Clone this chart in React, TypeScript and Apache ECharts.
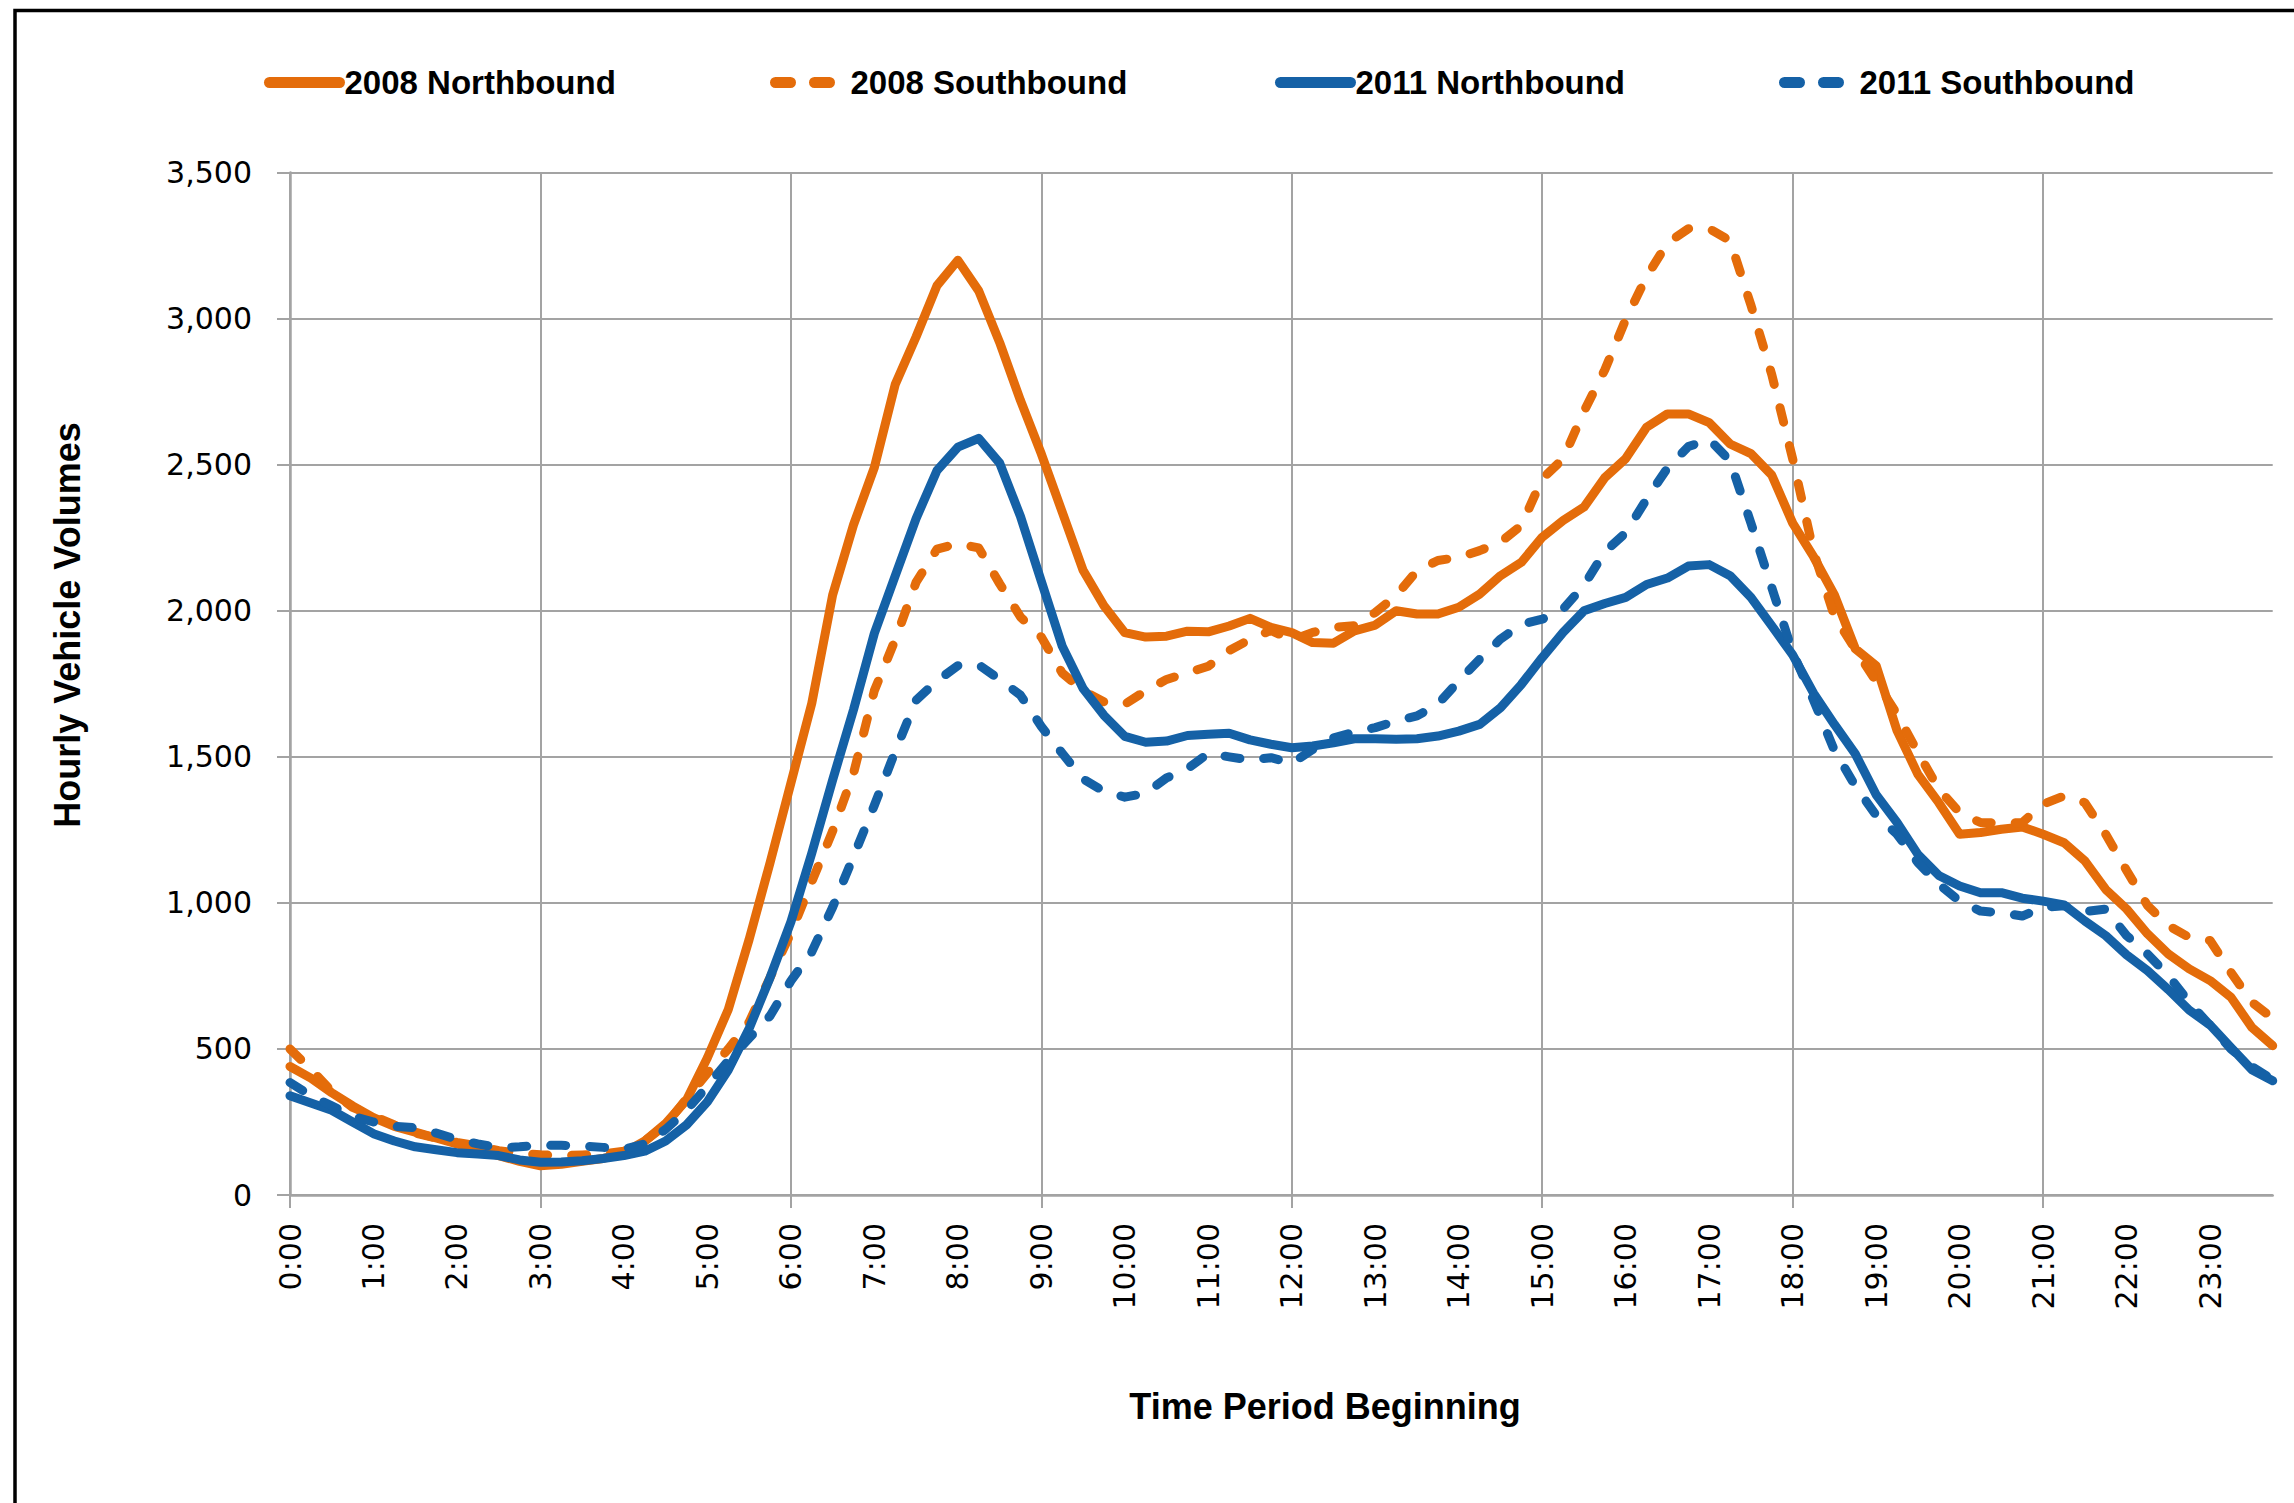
import React, { useEffect, useRef } from "react";
import * as echarts from "echarts";

const times: string[] = [];
for (let h = 0; h < 24; h++) {
  for (let m = 0; m < 60; m += 15) times.push(`${h}:${m === 0 ? "00" : m}`);
}

const seriesNames = ["2008 Northbound", "2008 Southbound", "2011 Northbound", "2011 Southbound"];

const nb2008 = [
  440, 400, 350, 305, 265, 235, 215, 195, 175, 155, 135, 115, 100, 105, 115, 125,
  145, 185, 245, 325, 470, 635, 875, 1137, 1410, 1683, 2054, 2294, 2491, 2775, 2938, 3113,
  3200, 3095, 2919, 2720, 2537, 2338, 2139, 2017, 1925, 1910, 1913, 1930, 1928, 1948, 1974, 1943,
  1925, 1891, 1889, 1931, 1951, 2000, 1989, 1989, 2012, 2057, 2120, 2166, 2252, 2309, 2355, 2456,
  2521, 2628, 2674, 2674, 2644, 2571, 2538, 2464, 2300, 2185, 2054, 1870, 1812, 1590, 1440, 1343,
  1235, 1241, 1252, 1260, 1235, 1206, 1144, 1046, 979, 894, 825, 774, 734, 677, 574, 511,
];

const sb2008 = [
  500, 430, 355, 300, 270, 240, 212, 195, 180, 168, 152, 143, 138, 135, 137, 140,
  150, 185, 240, 330, 417, 500, 592, 744, 897, 1072, 1246, 1443, 1727, 1901, 2098, 2211,
  2230, 2215, 2093, 1979, 1910, 1787, 1726, 1688, 1680, 1726, 1765, 1788, 1810, 1864, 1902, 1933,
  1900, 1926, 1943, 1949, 1994, 2052, 2137, 2172, 2183, 2206, 2235, 2292, 2452, 2520, 2683, 2825,
  2997, 3144, 3259, 3308, 3308, 3267, 3046, 2808, 2520, 2202, 1981, 1868, 1758, 1646, 1515, 1389,
  1309, 1275, 1273, 1275, 1338, 1366, 1343, 1235, 1111, 991, 922, 882, 871, 762, 660, 605,
];

const nb2011 = [
  340, 315, 290, 250, 210, 185, 165, 155, 145, 140, 135, 120, 112, 113, 117, 125,
  135, 150, 185, 240, 319, 428, 570, 744, 935, 1170, 1421, 1661, 1923, 2120, 2316, 2480,
  2560, 2590, 2506, 2323, 2101, 1879, 1734, 1642, 1570, 1550, 1554, 1573, 1577, 1581, 1558, 1543,
  1531, 1537, 1548, 1562, 1562, 1560, 1562, 1571, 1588, 1611, 1668, 1748, 1840, 1926, 2000, 2025,
  2046, 2090, 2112, 2153, 2158, 2120, 2046, 1948, 1849, 1718, 1611, 1510, 1370, 1275, 1166, 1094,
  1058, 1035, 1035, 1016, 1006, 993, 938, 888, 822, 768, 703, 633, 582, 505, 429, 391,
];

const sb2011 = [
  385, 340, 305, 270, 250, 235, 230, 212, 190, 175, 162, 165, 170, 170, 168, 163,
  157, 175, 225, 290, 373, 460, 537, 613, 733, 832, 985, 1159, 1334, 1519, 1694, 1760,
  1812, 1815, 1765, 1711, 1604, 1512, 1424, 1382, 1362, 1375, 1428, 1459, 1512, 1500, 1489, 1497,
  1478, 1525, 1565, 1585, 1600, 1623, 1640, 1680, 1760, 1834, 1903, 1954, 1971, 2006, 2087, 2202,
  2267, 2382, 2489, 2562, 2587, 2513, 2300, 2079, 1858, 1694, 1522, 1400, 1300, 1235, 1138, 1064,
  1006, 972, 966, 955, 985, 990, 970, 979, 888, 825, 751, 660, 580, 500, 440, 395,
];

const ORANGE = "#E46C0A";
const BLUE = "#1561A6";
const GRID = "#a3a3a3";
const LABEL_FONT = "DejaVu Sans";
const BOLD_FONT = "Liberation Sans";

export default function App() {
  const ref = useRef<HTMLDivElement>(null);

  useEffect(() => {
    document.body.style.margin = "0";
    if (!ref.current) return;
    const chart = echarts.init(ref.current, undefined, { renderer: "svg" });

    const dataSets = [nb2008, sb2008, nb2011, sb2011];
    const colors = [ORANGE, ORANGE, BLUE, BLUE];
    const dashed = [false, true, false, true];
    const legendLefts = [264, 770, 1275, 1779];

    const series = seriesNames.map((name, i) => ({
      name,
      type: "line",
      data: dataSets[i],
      symbol: "none",
      showSymbol: false,
      color: colors[i],
      lineStyle: {
        color: colors[i],
        width: 9,
        type: dashed[i] ? [15, 24] : "solid",
        cap: "round",
        join: "round",
      },
      z: 2 + i,
    }));

    const legends = seriesNames.map((name, i) => ({
      data: [name],
      left: legendLefts[i],
      top: 66,
      padding: 0,
      itemWidth: 70,
      itemHeight: 12,
      itemGap: 0,
      itemStyle: { opacity: 0 },
      lineStyle: { width: 11, cap: "round" },
      textStyle: {
        color: "#000",
        fontFamily: BOLD_FONT,
        fontWeight: "bold",
        fontSize: 33,
      },
    }));

    chart.setOption({
      animation: false,
      backgroundColor: "#ffffff",
      legend: legends,
      grid: { left: 290, top: 172.6, right: 21.3, bottom: 308, containLabel: false },
      xAxis: {
        type: "category",
        data: times,
        boundaryGap: false,
        axisLine: { show: true, lineStyle: { color: GRID, width: 2.5 } },
        axisTick: { show: true, interval: 11, length: 13, lineStyle: { color: GRID, width: 2 } },
        axisLabel: {
          interval: 3,
          rotate: 90,
          margin: 28,
          color: "#000",
          fontFamily: LABEL_FONT,
          fontSize: 30,
        },
        splitLine: { show: true, interval: 11, lineStyle: { color: GRID, width: 2 } },
      },
      yAxis: {
        type: "value",
        min: 0,
        max: 3500,
        interval: 500,
        axisLine: { show: true, lineStyle: { color: GRID, width: 2.5 } },
        axisTick: { show: true, length: 13, lineStyle: { color: GRID, width: 2 } },
        axisLabel: {
          margin: 38,
          color: "#000",
          fontFamily: LABEL_FONT,
          fontSize: 30,
          formatter: (v: number) => v.toLocaleString("en-US"),
        },
        splitLine: { show: true, lineStyle: { color: GRID, width: 2 } },
      },
      graphic: [
        {
          type: "rect",
          shape: { x: 15, y: 10.5, width: 2400, height: 1700 },
          style: { fill: "none", stroke: "#000", lineWidth: 3.5 },
          silent: true,
        },
        {
          type: "text",
          x: 67,
          y: 625,
          rotation: Math.PI / 2,
          style: {
            text: "Hourly Vehicle Volumes",
            fontFamily: BOLD_FONT,
            fontWeight: "bold",
            fontSize: 36,
            fill: "#000",
            textAlign: "center",
            textVerticalAlign: "middle",
          },
        },
        {
          type: "text",
          x: 1325,
          y: 1406,
          style: {
            text: "Time Period Beginning",
            fontFamily: BOLD_FONT,
            fontWeight: "bold",
            fontSize: 36,
            fill: "#000",
            textAlign: "center",
            textVerticalAlign: "middle",
          },
        },
      ],
      series,
    });

    return () => chart.dispose();
  }, []);

  return <div ref={ref} style={{ width: 2294, height: 1503 }} />;
}
